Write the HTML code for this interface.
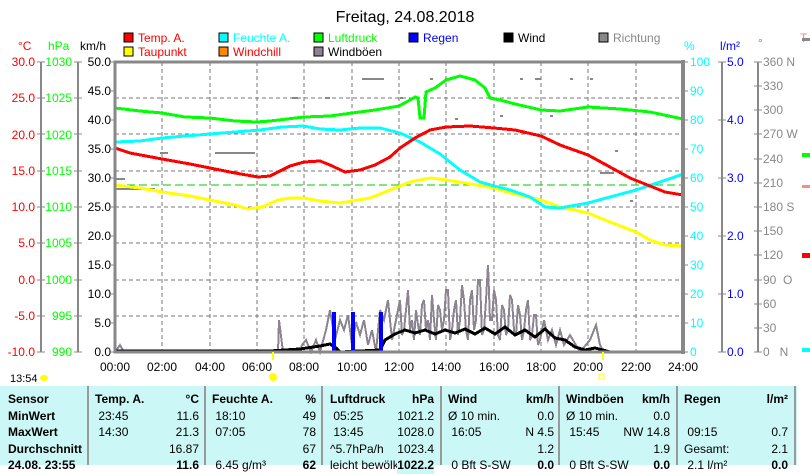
<!DOCTYPE html>
<html><head><meta charset="utf-8"><style>
body{margin:0;background:#fff;width:810px;height:465px;overflow:hidden;font-family:"Liberation Sans",sans-serif}
svg{position:absolute;left:0;top:0}
.tb{position:absolute;left:0;top:386px;width:797px;height:79px;background:#ccf7f7}
.col{position:absolute;height:80px;font-size:12px;line-height:16.5px;color:#000}
.col div{position:relative;height:16.5px;white-space:nowrap}
.r{position:absolute;right:6px;top:0}
.sep{position:absolute;top:386px;width:2px;height:79px;background:#999}
b{font-weight:bold}
</style></head><body>
<svg width="810" height="465" font-family="Liberation Sans, sans-serif">
<text x="405" y="22" font-size="16" text-anchor="middle">Freitag, 24.08.2018</text>
<g font-size="12">
<rect x="124" y="33" width="9" height="9" fill="#f00" stroke="#000"/><text x="138" y="42" fill="#f00">Temp. A.</text>
<rect x="124" y="47" width="9" height="9" fill="#ff0" stroke="#000"/><text x="138" y="56" fill="#f00">Taupunkt</text>
<rect x="219" y="33" width="9" height="9" fill="#0ff" stroke="#000"/><text x="233" y="42" fill="#0ff">Feuchte A.</text>
<rect x="219" y="47" width="9" height="9" fill="#f80" stroke="#000"/><text x="233" y="56" fill="#f00">Windchill</text>
<rect x="314" y="33" width="9" height="9" fill="#0f0" stroke="#000"/><text x="328" y="42" fill="#0f0">Luftdruck</text>
<rect x="314" y="47" width="9" height="9" fill="#8c8490" stroke="#000"/><text x="328" y="56" fill="#000">Windböen</text>
<rect x="409" y="33" width="9" height="9" fill="#00f" stroke="#000"/><text x="423" y="42" fill="#00f">Regen</text>
<rect x="504" y="33" width="9" height="9" fill="#000" stroke="#000"/><text x="518" y="42" fill="#000">Wind</text>
<rect x="599" y="33" width="9" height="9" fill="#888" stroke="#000"/><text x="613" y="42" fill="#888">Richtung</text>
<text x="800" y="42" fill="#f88">T</text>
</g>
<g font-size="12">
<text x="18" y="50" fill="#f00">°C</text><text x="48" y="50" fill="#0f0">hPa</text><text x="80" y="50">km/h</text>
<text x="684" y="50" fill="#0ff">%</text><text x="720" y="50" fill="#00f">l/m²</text><text x="758" y="47" fill="#888">°</text>
</g>
<line x1="41" y1="62" x2="41" y2="352" stroke="#888" stroke-width="2"/>
<line x1="78" y1="62" x2="78" y2="352" stroke="#888" stroke-width="2"/>
<g font-size="12" text-anchor="end">
<g fill="#f00">
<text x="35" y="66">30.0</text><text x="35" y="102">25.0</text><text x="35" y="139">20.0</text><text x="35" y="175">15.0</text><text x="35" y="211">10.0</text><text x="35" y="247">5.0</text><text x="35" y="284">0.0</text><text x="35" y="320">-5.0</text><text x="35" y="356">-10.0</text>
</g>
<g fill="#0f0">
<text x="72" y="66">1030</text><text x="72" y="102">1025</text><text x="72" y="139">1020</text><text x="72" y="175">1015</text><text x="72" y="211">1010</text><text x="72" y="247">1005</text><text x="72" y="284">1000</text><text x="72" y="320">995</text><text x="72" y="356">990</text>
</g>
<g fill="#000">
<text x="111" y="66">50.0</text><text x="111" y="95">45.0</text><text x="111" y="124">40.0</text><text x="111" y="153">35.0</text><text x="111" y="182">30.0</text><text x="111" y="211">25.0</text><text x="111" y="240">20.0</text><text x="111" y="269">15.0</text><text x="111" y="298">10.0</text><text x="111" y="327">5.0</text><text x="111" y="356">0.0</text>
</g>
</g>
<g stroke="#888" stroke-width="1">
<path d="M37 62h8M37 98h8M37 134h8M37 171h8M37 207h8M37 243h8M37 280h8M37 316h8M37 352h8"/>
<path d="M74 62h8M74 98h8M74 134h8M74 171h8M74 207h8M74 243h8M74 280h8M74 316h8M74 352h8"/>
<path d="M111 62h4M111 91h4M111 120h4M111 149h4M111 178h4M111 207h4M111 236h4M111 265h4M111 294h4M111 323h4M111 352h4"/>
</g>
<g stroke="#777" stroke-dasharray="4,3" stroke-width="1">
<path d="M162 62V352M210 62V352M257 62V352M304 62V352M352 62V352M399 62V352M446 62V352M494 62V352M541 62V352M588 62V352M636 62V352"/>
<path d="M115 98H683M115 134H683M115 171H683M115 207H683M115 243H683M115 280H683M115 316H683"/>
</g>
<line x1="115" y1="185" x2="683" y2="185" stroke="#0c0" stroke-dasharray="8,4"/>
<g fill="#888">
<rect x="362" y="78" width="22" height="2"/><rect x="430" y="78" width="3" height="2"/><rect x="445" y="78" width="3" height="2"/><rect x="470" y="78" width="3" height="2"/><rect x="520" y="78" width="3" height="2"/><rect x="535" y="78" width="6" height="2"/><rect x="570" y="78" width="3" height="2"/><rect x="590" y="78" width="3" height="2"/>
<rect x="292" y="97" width="6" height="2"/><rect x="325" y="97" width="5" height="2"/><rect x="400" y="97" width="3" height="2"/>
<rect x="215" y="152" width="40" height="2"/><rect x="160" y="152" width="8" height="2"/><rect x="115" y="188" width="40" height="2"/><rect x="115" y="178" width="10" height="2"/><rect x="600" y="172" width="14" height="2"/><rect x="630" y="200" width="3" height="2"/><rect x="615" y="150" width="3" height="2"/>
<rect x="550" y="115" width="3" height="2"/><rect x="500" y="115" width="3" height="2"/><rect x="455" y="118" width="3" height="2"/>
</g>
<g shape-rendering="crispEdges">
<polyline fill="none" stroke="#8c8490" stroke-width="2" points="115,352 120,345 124,352 180,352 278,352 279,320 283,352 300,352 302,345 306,340 311,352 316,340 320,352 326,330 330,310 335,340 340,320 344,330 348,315 352,345 356,322 360,335 364,320 368,345 372,330 376,352 380,310 384,320 388,300 392,340 396,320 400,300 402,335 404,330 406,310 408,290 410,330 412,320 414,340 416,310 418,325 420,335 422,305 424,300 426,330 428,320 430,340 432,295 434,320 436,340 438,305 440,310 442,330 444,320 446,290 448,290 450,340 452,330 454,310 456,300 458,335 460,320 462,285 464,300 466,330 468,340 470,300 472,290 474,330 476,320 478,280 480,280 482,335 484,330 486,300 488,265 490,320 492,320 494,290 496,300 498,335 500,340 502,305 504,310 506,335 508,330 510,295 512,300 514,330 516,335 518,305 520,315 522,340 524,330 526,310 528,300 530,340 532,335 534,315 536,315 538,345 540,340 544,320 548,340 552,330 556,345 560,330 564,345 570,335 580,352 590,340 596,325 600,345 604,352 683,352"/>
<polyline fill="none" stroke="#000" stroke-width="3" points="115,351 160,351 200,351 270,351 300,349 320,346 330,344 336,348 340,352 380,350 385,340 395,334 405,330 415,333 425,330 435,334 445,330 455,333 465,329 475,334 485,328 495,334 505,327 515,335 525,330 535,337 545,329 555,338 565,340 575,347 585,350 595,348 603,350 610,352 683,352"/>
<line x1="115" y1="352" x2="683" y2="352" stroke="#00f" stroke-width="1.5"/>
<rect x="332" y="312" width="4" height="40" fill="#00f"/><rect x="351" y="312" width="4" height="40" fill="#00f"/><rect x="379" y="312" width="4" height="40" fill="#00f"/>
<polyline fill="none" stroke="#ff0" stroke-width="3" points="115,185 140,188 162,192 190,196 210,200 235,205 248,209 262,207 278,200 290,198 304,198 320,201 340,203 352,201 370,198 390,190 400,186 410,182 420,180 431,178 446,180 465,183 494,188 510,193 541,200 560,207 588,213 610,222 636,232 650,240 665,245 683,246"/>
<polyline fill="none" stroke="#0ff" stroke-width="3" points="115,142 140,141 162,138 185,136 210,134 235,132 260,130 282,127 304,126 320,129 340,130 360,128 380,128 400,133 420,142 440,154 460,170 480,182 494,186 510,190 530,197 545,207 560,208 588,203 610,197 636,190 660,182 672,178 683,174"/>
<polyline fill="none" stroke="#f00" stroke-width="3" points="115,148 130,153 162,159 190,164 210,168 235,173 258,177 270,176 290,166 304,162 320,161 330,165 345,172 360,170 375,165 390,157 400,148 415,138 430,130 446,127 470,126 494,128 515,130 541,136 560,145 588,155 610,167 630,178 650,186 665,192 683,195"/>
<polyline fill="none" stroke="#0f0" stroke-width="3" points="115,108 140,111 162,113 185,117 210,118 235,121 257,122 270,121 304,117 330,116 352,113 375,110 399,106 410,100 415,97 418,98 420,118 424,118 426,92 435,88 446,80 460,76 475,80 485,88 490,98 500,100 515,104 541,110 560,111 588,107 620,109 650,112 683,119"/>
</g>
<rect x="115" y="62" width="568" height="290" fill="none" stroke="#888" stroke-width="3"/>
<line x1="683" y1="60" x2="683" y2="354" stroke="#888" stroke-width="4"/>
<line x1="722" y1="62" x2="722" y2="352" stroke="#888" stroke-width="2"/>
<line x1="758" y1="62" x2="758" y2="352" stroke="#888" stroke-width="2"/>
<g stroke="#888"><path d="M683 62h5M683 91h5M683 120h5M683 149h5M683 178h5M683 207h5M683 236h5M683 265h5M683 294h5M683 323h5M683 352h5"/>
<path d="M718 62h8M718 120h8M718 178h8M718 236h8M718 294h8M718 352h8"/>
<path d="M754 62h8M754 86h8M754 110h8M754 134h8M754 159h8M754 183h8M754 207h8M754 231h8M754 255h8M754 280h8M754 304h8M754 328h8M754 352h8"/></g>
<g font-size="12" fill="#0ff">
<text x="690" y="66">100</text><text x="690" y="95">90</text><text x="690" y="124">80</text><text x="690" y="153">70</text><text x="690" y="182">60</text><text x="690" y="211">50</text><text x="690" y="240">40</text><text x="690" y="269">30</text><text x="690" y="298">20</text><text x="690" y="327">10</text><text x="690" y="356">0</text>
</g>
<g font-size="12" fill="#00f">
<text x="727" y="66">5.0</text><text x="727" y="124">4.0</text><text x="727" y="182">3.0</text><text x="727" y="240">2.0</text><text x="727" y="298">1.0</text><text x="727" y="356">0.0</text>
</g>
<g font-size="12" fill="#888">
<text x="763" y="66">360 N</text><text x="763" y="90">330</text><text x="763" y="114">300</text><text x="763" y="138">270 W</text><text x="763" y="163">240</text><text x="763" y="187">210</text><text x="763" y="211">180 S</text><text x="763" y="235">150</text><text x="763" y="259">120</text><text x="763" y="284">90 &#160;O</text><text x="763" y="308">60</text><text x="763" y="332">30</text><text x="763" y="356">0 &#160;&#160;N</text>
</g>
<g>
<rect x="802" y="38" width="8" height="3" fill="#888"/><rect x="802" y="153" width="8" height="4" fill="#0f0"/><rect x="802" y="185" width="8" height="3" fill="#f88"/><rect x="802" y="253" width="8" height="5" fill="#f00"/><rect x="802" y="348" width="8" height="4" fill="#0ff"/>
</g>
<g font-size="12" text-anchor="middle">
<text x="115" y="371">00:00</text><text x="162" y="371">02:00</text><text x="210" y="371">04:00</text><text x="257" y="371">06:00</text><text x="304" y="371">08:00</text><text x="352" y="371">10:00</text><text x="399" y="371">12:00</text><text x="446" y="371">14:00</text><text x="494" y="371">16:00</text><text x="541" y="371">18:00</text><text x="588" y="371">20:00</text><text x="636" y="371">22:00</text><text x="683" y="371">24:00</text>
</g>
<text x="10" y="382" font-size="11">13:54</text>
<ellipse cx="44" cy="378" rx="4" ry="3" fill="#ff0"/>
<circle cx="273" cy="377" r="4" fill="#ff0"/>
<rect x="599" y="374" width="5" height="5" fill="none" stroke="#ff0"/>
<rect x="272" y="352" width="2" height="8" fill="#ff0"/><rect x="602" y="352" width="2" height="8" fill="#ff0"/>
</svg>
<div class="tb"></div>
<div class="sep" style="left:87px"></div><div class="sep" style="left:204px"></div><div class="sep" style="left:321px"></div><div class="sep" style="left:440px"></div><div class="sep" style="left:558px"></div><div class="sep" style="left:676px"></div><div class="sep" style="left:794px"></div>
<div class="col" style="left:8px;width:78px;top:391px"><div><b>Sensor</b></div><div><b>MinWert</b></div><div><b>MaxWert</b></div><div><b>Durchschnitt</b></div><div><b>24.08. 23:55</b></div></div>
<div class="col" style="left:95px;width:110px;top:391px"><div><b>Temp. A.</b><span class="r"><b>°C</b></span></div><div>&nbsp;23:45<span class="r">11.6</span></div><div>&nbsp;14:30<span class="r">21.3</span></div><div><span class="r">16.87</span></div><div><span class="r"><b>11.6</b></span></div></div>
<div class="col" style="left:212px;width:110px;top:391px"><div><b>Feuchte A.</b><span class="r"><b>%</b></span></div><div>&nbsp;18:10<span class="r">49</span></div><div>&nbsp;07:05<span class="r">78</span></div><div><span class="r">67</span></div><div>&nbsp;6.45 g/m³<span class="r"><b>62</b></span></div></div>
<div class="col" style="left:330px;width:110px;top:391px"><div><b>Luftdruck</b><span class="r"><b>hPa</b></span></div><div>&nbsp;05:25<span class="r">1021.2</span></div><div>&nbsp;13:45<span class="r">1028.0</span></div><div>^5.7hPa/h<span class="r">1023.4</span></div><div>leicht bewölkt<span class="r" style="background:#ccf7f7"><b>1022.2</b></span></div></div>
<div class="col" style="left:448px;width:112px;top:391px"><div><b>Wind</b><span class="r"><b>km/h</b></span></div><div>Ø 10 min.<span class="r">0.0</span></div><div>&nbsp;16:05<span class="r">N 4.5</span></div><div><span class="r">1.2</span></div><div>&nbsp;0 Bft S-SW<span class="r"><b>0.0</b></span></div></div>
<div class="col" style="left:566px;width:110px;top:391px"><div><b>Windböen</b><span class="r"><b>km/h</b></span></div><div>Ø 10 min.<span class="r">0.0</span></div><div>&nbsp;15:45<span class="r">NW 14.8</span></div><div><span class="r">1.9</span></div><div>&nbsp;0 Bft S-SW<span class="r"><b>0.0</b></span></div></div>
<div class="col" style="left:684px;width:110px;top:391px"><div><b>Regen</b><span class="r"><b>l/m²</b></span></div><div></div><div>&nbsp;09:15<span class="r">0.7</span></div><div>Gesamt:<span class="r">2.1</span></div><div>&nbsp;2.1 l/m²<span class="r"><b>0.0</b></span></div></div>
</body></html>
